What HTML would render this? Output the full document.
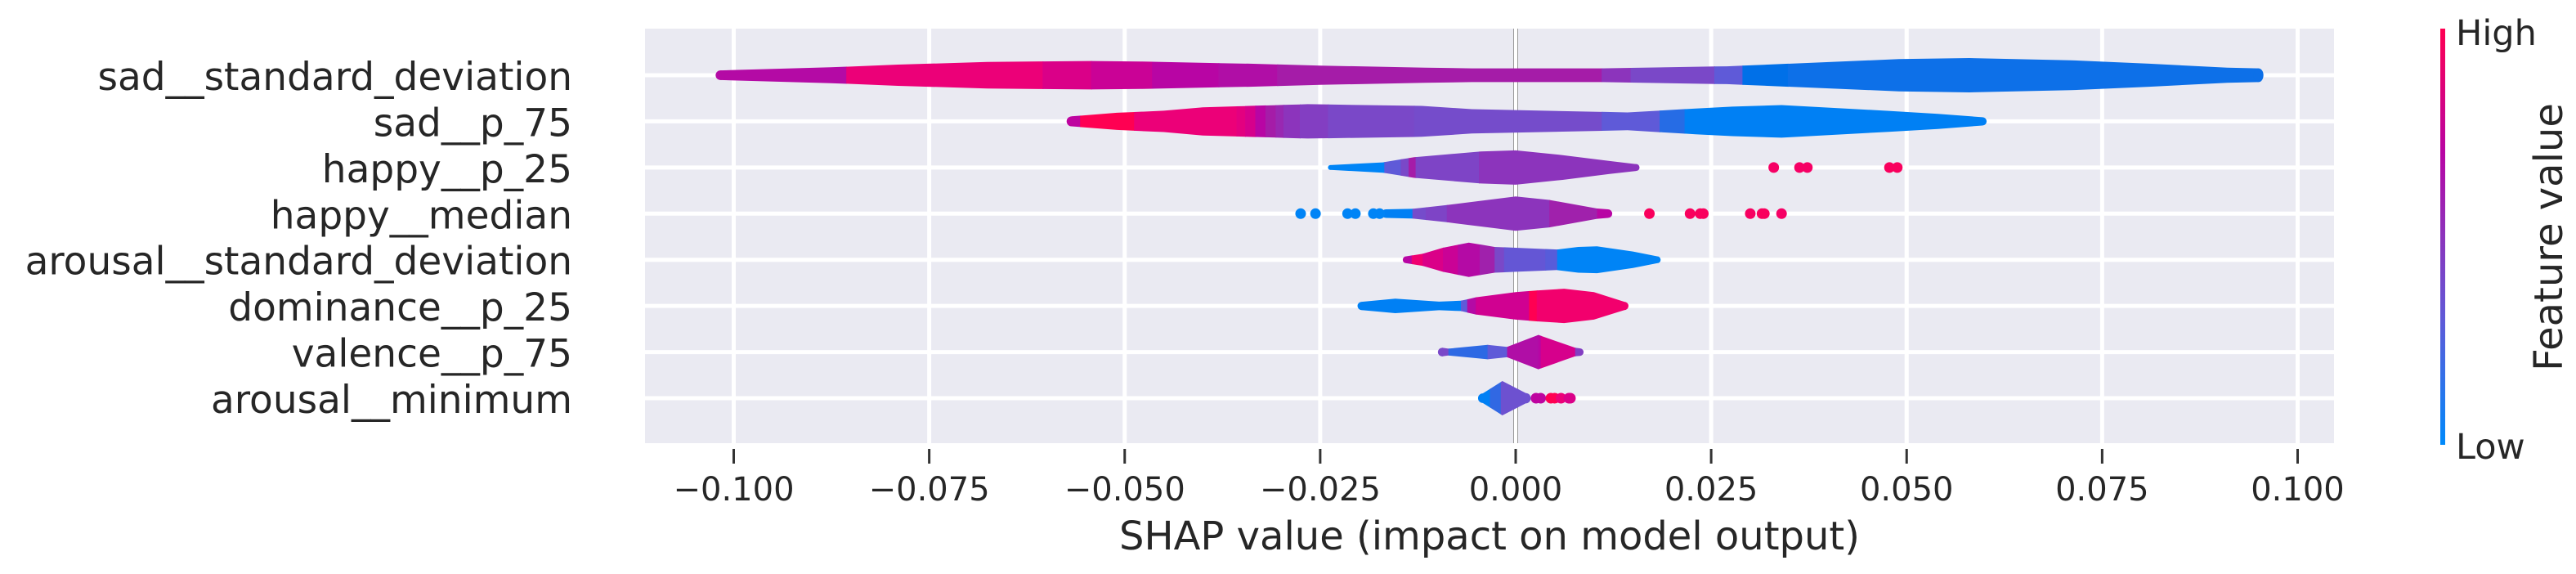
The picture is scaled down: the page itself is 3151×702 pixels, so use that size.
<!DOCTYPE html>
<html><head><meta charset="utf-8"><style>
html,body{margin:0;padding:0;background:#fff;}
svg{display:block;font-family:"DejaVu Sans","Liberation Sans",sans-serif;}
</style></head><body>
<svg id="chart" width="3151" height="702" viewBox="0 0 3151 702" xmlns="http://www.w3.org/2000/svg">
<defs>
<linearGradient id="cbar" x1="0" y1="1" x2="0" y2="0">
<stop offset="0" stop-color="#008afb"/><stop offset="0.3" stop-color="#5f5ad8"/><stop offset="0.5" stop-color="#8c34bc"/><stop offset="0.7" stop-color="#b805a4"/><stop offset="1" stop-color="#ff0052"/>
</linearGradient>
</defs>
<rect x="789" y="35" width="2066" height="507" fill="#eaeaf2"/>
<g id="grid"></g>
<g id="marks"></g>
<g id="axis"></g>
<g id="ylabels"></g>
<text x="1822" y="672" font-size="48" fill="#262626" text-anchor="middle">SHAP value (impact on model output)</text>
<rect x="2985" y="35" width="6" height="509" fill="url(#cbar)"/>
<text x="3004" y="55" font-size="43" fill="#262626">High</text>
<text x="3004" y="561" font-size="43" fill="#262626">Low</text>
<text transform="translate(3134,290) rotate(-90)" font-size="48" fill="#262626" text-anchor="middle">Feature value</text>
</svg>
<script>
const features = ["sad__standard_deviation","sad__p_75","happy__p_25","happy__median","arousal__standard_deviation","dominance__p_25","valence__p_75","arousal__minimum"];
const xTicks = [-0.1,-0.075,-0.05,-0.025,0,0.025,0.05,0.075,0.1];
const xTickLabels = ["\u22120.100","\u22120.075","\u22120.050","\u22120.025","0.000","0.025","0.050","0.075","0.100"];
// violin density profiles: [shap value, relative thickness]
const profile0 = [[-0.1017,0.28],[-0.0876,0.46],[-0.079,0.62],[-0.0676,0.77],[-0.0545,0.83],[-0.048,0.8],[-0.034,0.67],[-0.025,0.56],[-0.0116,0.44],[-0.0056,0.4],[0.011,0.4],[0.027,0.52],[0.037,0.71],[0.049,0.94],[0.058,1.0],[0.071,0.87],[0.081,0.67],[0.091,0.44],[0.095,0.4]];
const profile1 = [[-0.0568,0.29],[-0.051,0.5],[-0.045,0.62],[-0.040,0.82],[-0.0266,1.0],[-0.012,0.9],[-0.0056,0.71],[0.0143,0.52],[0.023,0.75],[0.0277,0.86],[0.034,0.95],[0.0477,0.61],[0.054,0.44],[0.0597,0.24]];
const profile2 = [[-0.0237,0.14],[-0.017,0.3],[-0.013,0.6],[-0.0045,0.93],[0,1.0],[0.006,0.72],[0.012,0.38],[0.0154,0.2]];
const profile3 = [[-0.0166,0.25],[-0.0132,0.28],[-0.0088,0.5],[0,1.0],[0.0043,0.8],[0.0104,0.3],[0.0118,0.25]];
const profile4 = [[-0.014,0.2],[-0.0119,0.35],[-0.0093,0.7],[-0.006,1.0],[-0.0027,0.75],[0,0.7],[0.0053,0.6],[0.008,0.75],[0.0104,0.78],[0.015,0.48],[0.0181,0.2]];
const profile5 = [[-0.0197,0.24],[-0.0154,0.42],[-0.0098,0.25],[-0.007,0.3],[-0.0051,0.5],[0,0.8],[0.0027,0.9],[0.0062,1.0],[0.01,0.8],[0.0139,0.24]];
const profile6 = [[-0.0094,0.25],[-0.0086,0.2],[-0.0036,0.42],[-0.0011,0.3],[0.0029,1.0],[0.0076,0.25],[0.0082,0.22]];
const profile7 = [[-0.0042,0.28],[-0.0017,1.0],[0.0013,0.3]];
// colour segments: [segment start shap value, feature value 0..1]
const colors0 = [[-0.1017,0.68],[-0.0856,0.9],[-0.0605,0.82],[-0.0543,0.76],[-0.0465,0.7],[-0.038,0.66],[-0.0305,0.6],[0.011,0.5],[0.0147,0.4],[0.0254,0.3],[0.029,0.08],[0.0348,0.1]];
const colors1 = [[-0.0568,0.72],[-0.0557,1.0],[-0.0488,0.9],[-0.0357,0.86],[-0.0346,0.8],[-0.0333,0.7],[-0.032,0.6],[-0.0307,0.55],[-0.0297,0.5],[-0.0276,0.45],[-0.024,0.4],[-0.013,0.38],[0.011,0.3],[0.0184,0.15],[0.0216,0.03]];
const colors2 = [[-0.0237,0.02],[-0.0168,0.3],[-0.0147,0.4],[-0.0137,0.6],[-0.0128,0.42],[-0.0047,0.5]];
const colors3 = [[-0.0166,0.03],[-0.0132,0.38],[-0.0115,0.42],[-0.0088,0.5],[0.0043,0.58],[0.0104,0.7]];
const colors4 = [[-0.014,0.7],[-0.0133,0.92],[-0.0119,0.82],[-0.0093,0.76],[-0.0074,0.68],[-0.0046,0.58],[-0.0027,0.4],[-0.0015,0.32],[0.0038,0.28],[0.0053,0.02]];
const colors5 = [[-0.0197,0.03],[-0.007,0.3],[-0.0062,0.68],[-0.0051,0.78],[0.0017,1.0],[0.0027,0.93]];
const colors6 = [[-0.0094,0.4],[-0.0086,0.17],[-0.0036,0.3],[-0.0011,0.66],[0.0029,0.7],[0.0032,0.8],[0.0076,0.45]];
const colors7 = [[-0.0042,0.03],[-0.0033,0.18],[-0.0019,0.35]];
// outlier dots: [shap value, feature value]
const dots2 = [[0.033,0.95],[0.0363,0.95],[0.0373,0.95],[0.0478,0.97],[0.0488,0.97]];
const dots3 = [[-0.0275,0.02],[-0.0256,0.02],[-0.0215,0.02],[-0.0205,0.02],[-0.0182,0.02],[-0.0174,0.02],[0.0171,0.97],[0.0223,0.97],[0.0236,0.97],[0.024,0.97],[0.030,0.96],[0.0315,0.97],[0.0318,0.97],[0.034,0.95]];
const dots7 = [[0.0026,0.72],[0.0032,0.72],[0.0045,1.0],[0.005,1.0],[0.0058,0.9],[0.0068,0.82],[0.007,0.82]];

const profiles=[profile0,profile1,profile2,profile3,profile4,profile5,profile6,profile7];
const colorSets=[colors0,colors1,colors2,colors3,colors4,colors5,colors6,colors7];
const dotSets=[[],[],dots2,dots3,[],[],[],dots7];

const NS="http://www.w3.org/2000/svg";
const X0=1854, XS=9565, Y0=92, YS=56.43, HW=21;
const xs=v=>X0+v*XS;
const ys=i=>Y0+i*YS;
const stops=[[0,[0,138,251]],[0.08,[0,112,232]],[0.12,[26,111,232]],[0.3,[95,90,216]],[0.4,[122,72,200]],[0.5,[140,52,188]],[0.6,[165,28,168]],[0.7,[184,5,164]],[0.8,[214,0,140]],[0.9,[236,0,120]],[1,[255,0,82]]];
function cmap(f){for(let k=1;k<stops.length;k++){if(f<=stops[k][0]){const a=stops[k-1],b=stops[k];const t=(f-a[0])/(b[0]-a[0]);const c=a[1].map((q,j)=>Math.round(q+(b[1][j]-q)*t));return `rgb(${c.join(',')})`;}}return 'rgb(255,0,82)';}
function mk(tag,attrs,parent){const e=document.createElementNS(NS,tag);for(const k in attrs)e.setAttribute(k,attrs[k]);parent.appendChild(e);return e;}
function dens(p,v){if(v<=p[0][0])return p[0][1];for(let k=1;k<p.length;k++){if(v<=p[k][0]){const t=(v-p[k-1][0])/(p[k][0]-p[k-1][0]);return p[k-1][1]+(p[k][1]-p[k-1][1])*t;}}return p[p.length-1][1];}

const grid=document.getElementById('grid');
xTicks.forEach(t=>{const l=mk('line',{x1:xs(t),x2:xs(t),y1:35,y2:542,stroke:'#fff','stroke-width':5},grid);

});
features.forEach((f,i)=>{const l=mk('line',{x1:789,x2:2855,y1:ys(i),y2:ys(i),stroke:'#fff','stroke-width':5},grid);

});
const zl=mk('rect',{x:xs(0)-3,y:35,width:6,height:507,fill:'#999'},grid);


mk('rect',{x:xs(0)-2,y:35,width:4,height:507,fill:'#fff'},grid);

const marks=document.getElementById('marks');
profiles.forEach((p,i)=>{
  const cy=ys(i), cs=colorSets[i], vmax=p[p.length-1][0];
  const g=mk('g',{},marks);
  
  
  cs.forEach((c,k)=>{
    const a=c[0], b=(k+1<cs.length)?Math.min(cs[k+1][0]+0.0001,vmax):vmax;
    const pts=[a];p.forEach(q=>{if(q[0]>a&&q[0]<b)pts.push(q[0]);});pts.push(b);
    const top=pts.map(v=>`${xs(v).toFixed(1)},${(cy-dens(p,v)*HW).toFixed(1)}`);
    const bot=pts.slice().reverse().map(v=>`${xs(v).toFixed(1)},${(cy+dens(p,v)*HW).toFixed(1)}`);
    const poly=mk('polygon',{points:top.concat(bot).join(' '),fill:cmap(c[1])},g);
    
    
  });
  const r0=dens(p,p[0][0])*HW, r1=dens(p,vmax)*HW;
  mk('ellipse',{cx:xs(p[0][0]),cy:cy,rx:Math.min(r0,6),ry:r0,fill:cmap(cs[0][1])},g);
  mk('ellipse',{cx:xs(vmax),cy:cy,rx:Math.min(r1,6),ry:r1,fill:cmap(cs[cs.length-1][1])},g);
  dotSets[i].forEach(d=>{const e=mk('circle',{cx:xs(d[0]),cy:cy,r:6.5,fill:cmap(d[1])},g);
  
  });
});

const axis=document.getElementById('axis');
xTicks.forEach((t,k)=>{
  const l=mk('line',{x1:xs(t),x2:xs(t),y1:549,y2:567,stroke:'#333','stroke-width':3},axis);
  
  
  const tx=mk('text',{x:xs(t),y:612,'font-size':40,fill:'#262626','text-anchor':'middle'},axis);
  tx.textContent=xTickLabels[k];
  
  
});
const yl=document.getElementById('ylabels');
features.forEach((f,i)=>{
  const t=mk('text',{x:700,y:ys(i)+18,'font-size':47,fill:'#262626','text-anchor':'end'},yl);
  t.textContent=f;
  
  
});
</script>
</body></html>
